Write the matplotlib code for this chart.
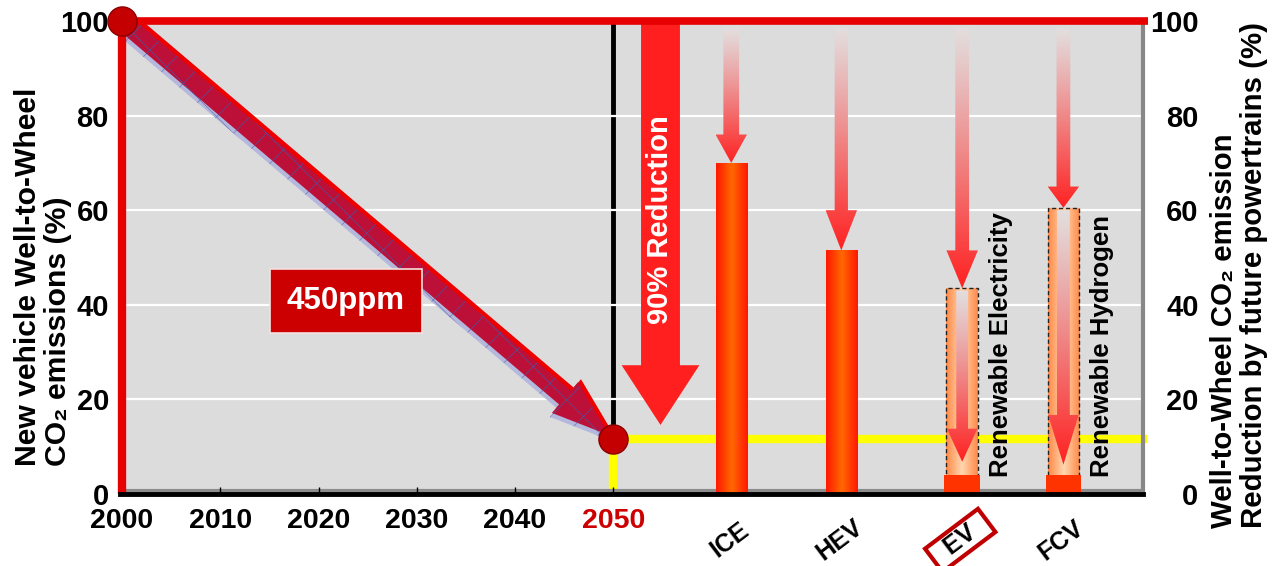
import numpy as np
import matplotlib.pyplot as plt
import matplotlib.transforms as mtransforms
from matplotlib.colors import LinearSegmentedColormap
from matplotlib.patches import Polygon, FancyArrowPatch, ArrowStyle

plt.rcParams['font.family'] = ['Liberation Sans', 'DejaVu Sans']
plt.rcParams['font.weight'] = 'bold'
plt.rcParams['hatch.linewidth'] = 0.5

# data
years = [2000, 2010, 2020, 2030, 2040, 2050]
path_years = [2000, 2050]
path_vals = [100, 11.6]
cats = ['ICE', 'HEV', 'EV', 'FCV']
cat_vals = [70, 51.5, 43.5, 60.5]       # WtW CO2 of each powertrain (%)
renew_vals = [4, 4]                     # EV / FCV with renewable energy
renew_text = ['Renewable Electricity', 'Renewable Hydrogen']
y_ticks = [0, 20, 40, 60, 80, 100]

# layout
cat_x = [2062.0, 2073.2, 2085.5, 2095.8]
x_lo, x_hi = 1999.8, 2103.9
W, H = 1278, 566

fig = plt.figure(figsize=(W / 100, H / 100), dpi=100)
ax = fig.add_axes([120 / W, 72 / H, 1023 / W, 473 / H])
ax.set_facecolor('#dcdcdc')
ax.set_xlim(x_lo, x_hi)
ax.set_ylim(0, 100)

for v in y_ticks[1:-1]:
    ax.axhline(v, color='white', lw=1.6, zorder=1.5)

# yellow target line and black 2050 line
ax.plot([path_years[1], path_years[1], x_hi + 0.4], [0, path_vals[1], path_vals[1]],
        color='#ffff00', lw=6, zorder=1.2, clip_on=False, solid_capstyle='butt')
ax.plot([path_years[1]] * 2, [path_vals[1], 100], color='black', lw=3.5, zorder=1.1)
# grey shadow just above the base line
ax.plot([x_lo, x_hi], [0, 0], color='#8c8c8c', lw=3, zorder=1.3,
        transform=mtransforms.offset_copy(ax.transData, fig, x=0, y=3, units='dots'))


def grad_arrow(x, y0, y1, shaft, head, hlen, z=4):
    yb = y1 + hlen
    pts = [(x - shaft / 2, y0), (x + shaft / 2, y0), (x + shaft / 2, yb),
           (x + head / 2, yb), (x, y1), (x - head / 2, yb), (x - shaft / 2, yb)]
    poly = Polygon(pts, closed=True, facecolor='none', edgecolor='none')
    ax.add_patch(poly)
    t = np.linspace(0, 1, 256) ** 1.1
    top = np.array([0.89, 0.87, 0.87])
    bot = np.array([1.0, 0.13, 0.13])
    g = top[None, :] * (1 - t[:, None]) + bot[None, :] * t[:, None]
    im = ax.imshow(g[:, None, :], extent=[x - head / 2, x + head / 2, y1, y0],
                   origin='upper', aspect='auto', zorder=z, interpolation='bilinear')
    im.set_clip_path(poly)


def grad_bar(bar, colors, z=3):
    cmap = LinearSegmentedColormap.from_list('g', colors)
    x0, y0 = bar.get_xy()
    im = ax.imshow(np.linspace(0, 1, 64)[None, :], cmap=cmap,
                   extent=[x0, x0 + bar.get_width(), y0, y0 + bar.get_height()],
                   aspect='auto', zorder=z, interpolation='bilinear')
    im.set_clip_path(bar)


bars = ax.bar(cat_x, cat_vals, width=3.2, color='none', zorder=3)
for b in bars[:2]:
    grad_bar(b, ['#ff1800', '#ff6800', '#ff1800'])
for b in bars[2:]:
    grad_bar(b, ['#ff8a48', '#ffd6b0', '#ff8a48'])
    b.set_edgecolor('#222222')
    b.set_linestyle((0, (3, 2)))
    b.set_linewidth(1.0)
    b.set_zorder(5)
ax.bar(cat_x[2:], renew_vals, width=3.6, color='#ff3300', zorder=6)

# arrows from the top down to each powertrain
head_len = [6, 8.5, 8, 4.5]
shaft_w = [1.6, 1.35, 1.4, 1.4]
for x, v, hl, sw in zip(cat_x, cat_vals, head_len, shaft_w):
    grad_arrow(x, 98.5, v, sw, 3.2, hl)
grad_arrow(cat_x[2], cat_vals[2] - 0.5, renew_vals[0] + 2.8, 1.2, 3.1, 7, z=5.5)
grad_arrow(cat_x[3], cat_vals[3] - 0.5, renew_vals[1] + 2.2, 1.3, 3.1, 10.5, z=5.5)

for x, s in zip(cat_x[2:], renew_text):
    ax.text(x + 3.9, 3.6, s, rotation=90, ha='center', va='bottom',
            fontsize=18.5, fontweight='bold', color='black', zorder=7)

# 90% reduction arrow
red_arrow = FancyArrowPatch((2054.8, 100.5), (2054.8, 14.6),
                            arrowstyle=ArrowStyle.Simple(head_length=43, head_width=56, tail_width=28),
                            mutation_scale=1, shrinkA=0, shrinkB=0,
                            color='#ff1f1f', lw=0, zorder=5)
ax.add_patch(red_arrow)
ax.text(2054.8, 58, '90% Reduction', rotation=90, ha='center', va='center',
        color='white', fontsize=21, zorder=6)

# diagonal path arrow 2000 -> 2050
tip = (2049.6, 12.4)
style = ArrowStyle.Simple(head_length=42, head_width=29, tail_width=13)
shadow = FancyArrowPatch((path_years[0], path_vals[0]), tip, arrowstyle=style,
                         mutation_scale=1, shrinkA=0, shrinkB=0,
                         facecolor='#b4b8dc', edgecolor='#7078b8', lw=0, hatch='x',
                         transform=mtransforms.offset_copy(ax.transData, fig, x=-2, y=-4, units='dots'),
                         zorder=6)
edge = FancyArrowPatch((path_years[0], path_vals[0]), tip, arrowstyle=style,
                       mutation_scale=1, shrinkA=0, shrinkB=0, color='#ee0000', lw=0,
                       transform=mtransforms.offset_copy(ax.transData, fig, x=3, y=3, units='dots'),
                       zorder=6.1)
main = FancyArrowPatch((path_years[0], path_vals[0]), tip, arrowstyle=style,
                       mutation_scale=1, shrinkA=0, shrinkB=0,
                       facecolor='#bc1038', edgecolor='#50509c', lw=0, hatch='x',
                       zorder=6.2)
for p in (shadow, edge, main):
    ax.add_patch(p)

ax.text(2022.8, 40.8, '450ppm', ha='center', va='center', color='white', fontsize=22.5,
        zorder=7, bbox=dict(boxstyle='square,pad=0.55', facecolor='#cc0000',
                            edgecolor='#f4e0e0', lw=1.2))

# frame lines
ax.plot([path_years[0]] * 2, [0, 100], color='#e60000', lw=6, zorder=7,
        solid_capstyle='butt', clip_on=False)
ax.plot([x_lo, x_hi + 0.5], [100, 100], color='#e60000', lw=5.5, zorder=7,
        solid_capstyle='butt', clip_on=False)
ax.scatter(path_years, path_vals, s=440, color='#c40000', edgecolors='#8a0000',
           linewidths=1, zorder=10, clip_on=False)

for s in ['left', 'top']:
    ax.spines[s].set_visible(False)
ax.spines['right'].set_color('#888888')
ax.spines['right'].set_linewidth(3)
ax.spines['bottom'].set_color('black')
ax.spines['bottom'].set_linewidth(3.5)
ax.spines['bottom'].set_zorder(8)

ax.set_xticks(years)
ax.set_xticklabels([str(y) for y in years], fontsize=20.5)
ax.get_xticklabels()[-1].set_color('#cc0000')
first = ax.get_xticklabels()[0]
first.set_transform(first.get_transform() +
                    mtransforms.ScaledTranslation(6 / 100, 0, fig.dpi_scale_trans))
ax.tick_params(axis='x', direction='in', length=5, width=1, pad=10)
ax.set_yticks(y_ticks)
ax.set_yticklabels([str(v) for v in y_ticks], fontsize=21)
ax.tick_params(axis='y', length=0, pad=8)

ax2 = ax.twinx()
ax2.set_ylim(0, 100)
ax2.set_yticks(y_ticks)
ax2.set_yticklabels([str(v) for v in y_ticks], fontsize=21)
ax2.tick_params(axis='y', length=0, pad=40)
for lab in ax2.get_yticklabels():
    lab.set_horizontalalignment('right')
for s in ax2.spines.values():
    s.set_visible(False)

# category labels under the bars
tr = mtransforms.blended_transform_factory(ax.transData, ax.transAxes)
for x, c in zip(cat_x, cats):
    kw = {}
    label = c
    if c == 'EV':
        label = '  EV  '
        kw['bbox'] = dict(boxstyle='square,pad=0.1', facecolor='white',
                          edgecolor='#c00000', lw=3)
    ax.text(x - 0.2, -0.098, label, transform=tr, rotation=37, rotation_mode='anchor',
            ha='center', va='center', fontsize=18, clip_on=False, **kw)

fig.text(43 / W, 1 - 466 / H, 'New vehicle Well-to-Wheel\nCO₂ emissions (%)',
         rotation=90, ha='center', va='bottom', multialignment='left',
         fontsize=21.7, linespacing=1.08)
fig.text(1239 / W, 1 - 528 / H, 'Well-to-Wheel CO₂ emission\nReduction by future powertrains (%)',
         rotation=90, ha='center', va='bottom', multialignment='left',
         fontsize=21.2, linespacing=1.08)

fig.savefig('out.png', dpi=100)
